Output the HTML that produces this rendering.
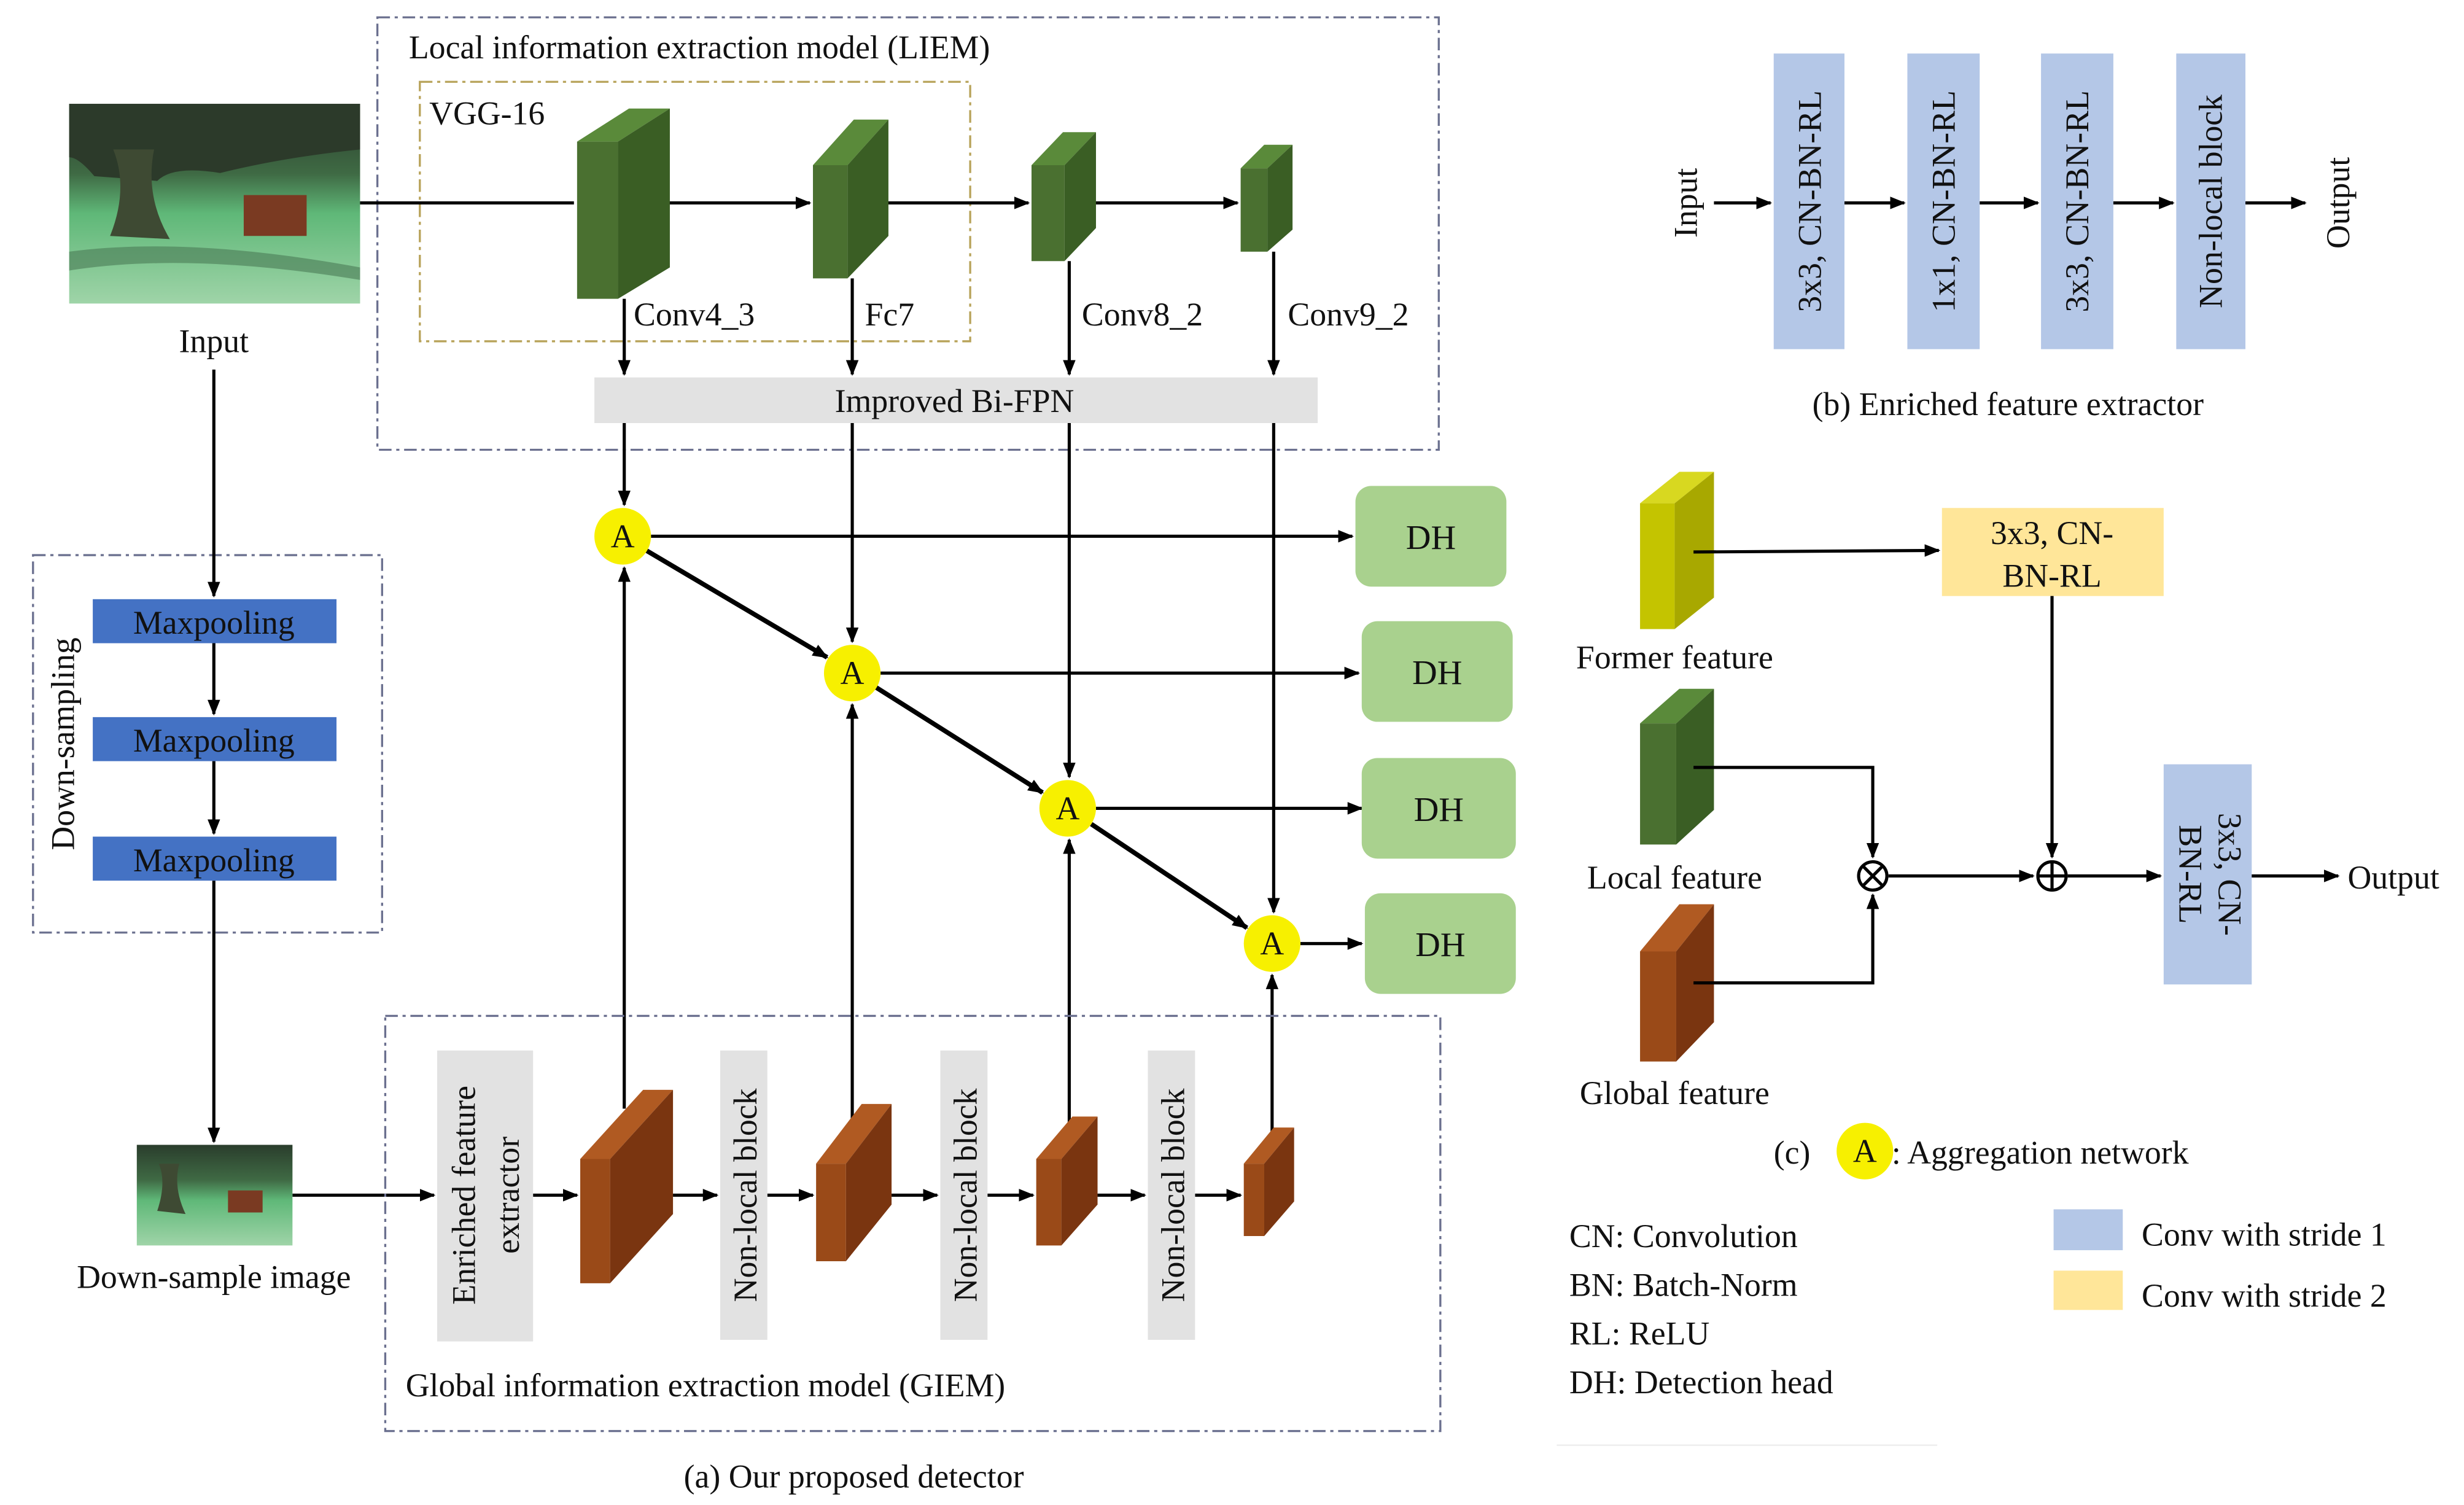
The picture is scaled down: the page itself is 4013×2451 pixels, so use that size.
<!DOCTYPE html>
<html><head><meta charset="utf-8"><style>
html,body{margin:0;padding:0;background:#fff}
svg{display:block}
svg text{font-family:"Liberation Serif","DejaVu Serif",serif;fill:#111}
</style></head><body>
<svg width="4013" height="2451" viewBox="0 0 1567 957" xmlns="http://www.w3.org/2000/svg" font-family="Liberation Serif, DejaVu Serif, serif">
<defs>
<marker id="ar" markerWidth="10" markerHeight="10" refX="9" refY="5" orient="auto" markerUnits="userSpaceOnUse"><path d="M0,1 L10,5 L0,9 Z" fill="#000"/></marker>
<linearGradient id="img" x1="0" y1="0" x2="0" y2="1">
<stop offset="0" stop-color="#2a3d2c"/><stop offset="0.35" stop-color="#3f6a44"/><stop offset="0.55" stop-color="#5fb878"/><stop offset="1" stop-color="#9fd4a8"/></linearGradient>
</defs>
<rect width="1567" height="957" fill="#fff"/>
<g font-size="21" font-family="Liberation Serif, DejaVu Serif, serif">
<!-- input image -->
<rect x="44" y="66" width="185" height="127" fill="url(#img)"/>
<path d="M44,66 L229,66 L229,95 Q180,100 140,110 Q110,105 100,115 L60,112 Q50,100 44,100 Z" fill="#2c3a2a"/>
<path d="M70,150 Q82,120 72,95 L98,95 Q92,125 108,152 Z" fill="#3e4a33"/>
<path d="M44,160 Q120,150 229,170 L229,178 Q120,160 44,172 Z" fill="#4a7a55" opacity="0.6"/>
<rect x="155" y="124" width="40" height="26" fill="#7a3a22"/>
<text x="136" y="224" text-anchor="middle">Input</text>
<!-- LIEM -->
<rect x="240" y="11" width="675" height="275" fill="none" stroke="#6b708f" stroke-width="1.3" stroke-dasharray="8,3,2,3"/>
<text x="260" y="37">Local information extraction model (LIEM)</text>
<rect x="267" y="52" width="350" height="165" fill="none" stroke="#b8a35a" stroke-width="1.3" stroke-dasharray="8,3,2,3"/>
<text x="273" y="79">VGG-16</text>
<g stroke="#000" stroke-width="2" fill="none">
<line x1="229" y1="129" x2="365" y2="129"/>
<line x1="405" y1="129" x2="515" y2="129" marker-end="url(#ar)"/>
<line x1="548" y1="129" x2="654" y2="129" marker-end="url(#ar)"/>
<line x1="685" y1="129" x2="787" y2="129" marker-end="url(#ar)"/>
<line x1="397" y1="190" x2="397" y2="238" marker-end="url(#ar)"/>
<line x1="542" y1="177" x2="542" y2="238" marker-end="url(#ar)"/>
<line x1="680" y1="166" x2="680" y2="238" marker-end="url(#ar)"/>
<line x1="810" y1="160" x2="810" y2="238" marker-end="url(#ar)"/>
<line x1="397" y1="269" x2="397" y2="321" marker-end="url(#ar)"/>
<line x1="542" y1="269" x2="542" y2="408" marker-end="url(#ar)"/>
<line x1="680" y1="269" x2="680" y2="494" marker-end="url(#ar)"/>
<line x1="810" y1="269" x2="810" y2="580" marker-end="url(#ar)"/>
<line x1="414" y1="341" x2="860" y2="341" marker-end="url(#ar)"/>
<line x1="560" y1="428" x2="864" y2="428" marker-end="url(#ar)"/>
<line x1="697" y1="514" x2="866" y2="514" marker-end="url(#ar)"/>
<line x1="827" y1="600" x2="866" y2="600" marker-end="url(#ar)"/>
<line x1="397" y1="705" x2="397" y2="361" marker-end="url(#ar)"/>
<line x1="542" y1="712" x2="542" y2="448" marker-end="url(#ar)"/>
<line x1="680" y1="718" x2="680" y2="534" marker-end="url(#ar)"/>
<line x1="809" y1="726" x2="809" y2="620" marker-end="url(#ar)"/>
</g>
<g stroke="#000" stroke-width="3" fill="none">
<line x1="411" y1="350" x2="526" y2="418" marker-end="url(#ar)"/>
<line x1="557" y1="437" x2="663" y2="504" marker-end="url(#ar)"/>
<line x1="694" y1="524" x2="793" y2="590" marker-end="url(#ar)"/>
</g>
<!-- green blocks -->
<g>
<polygon points="367,90 400,69 426,69 393,90" fill="#5a8a3a"/>
<polygon points="367,90 393,90 393,190 367,190" fill="#4a7030"/>
<polygon points="393,90 426,69 426,170 393,190" fill="#3a5e24"/>
<polygon points="517,105 543,76 565,76 539,105" fill="#5a8a3a"/>
<polygon points="517,105 539,105 539,177 517,177" fill="#4a7030"/>
<polygon points="539,105 565,76 565,150 539,177" fill="#3a5e24"/>
<polygon points="656,105 676,84 697,84 677,105" fill="#5a8a3a"/>
<polygon points="656,105 677,105 677,166 656,166" fill="#4a7030"/>
<polygon points="677,105 697,84 697,145 677,166" fill="#3a5e24"/>
<polygon points="789,107 804,92 822,92 806,107" fill="#5a8a3a"/>
<polygon points="789,107 806,107 806,160 789,160" fill="#4a7030"/>
<polygon points="806,107 822,92 822,146 806,160" fill="#3a5e24"/>
</g>
<text x="403" y="207">Conv4_3</text>
<text x="550" y="207">Fc7</text>
<text x="688" y="207">Conv8_2</text>
<text x="819" y="207">Conv9_2</text>
<rect x="378" y="240" width="460" height="29" fill="#e2e2e2"/>
<text x="607" y="262" text-anchor="middle">Improved Bi-FPN</text>
<!-- A nodes -->
<g fill="#f7f000">
<circle cx="396" cy="341" r="18"/><circle cx="542" cy="428" r="18"/><circle cx="679" cy="514" r="18"/><circle cx="809" cy="600" r="18"/>
</g>
<g text-anchor="middle"><text x="396" y="348">A</text><text x="542" y="435">A</text><text x="679" y="521">A</text><text x="809" y="607">A</text></g>
<!-- DH -->
<g fill="#a9d18e">
<rect x="862" y="309" width="96" height="64" rx="10"/><rect x="866" y="395" width="96" height="64" rx="10"/>
<rect x="866" y="482" width="98" height="64" rx="10"/><rect x="868" y="568" width="96" height="64" rx="10"/>
</g>
<g text-anchor="middle" font-size="22"><text x="910" y="349">DH</text><text x="914" y="435">DH</text><text x="915" y="522">DH</text><text x="916" y="608">DH</text></g>
<!-- down sampling -->
<rect x="21" y="353" width="222" height="240" fill="none" stroke="#6b708f" stroke-width="1.3" stroke-dasharray="8,3,2,3"/>
<text transform="translate(47,473) rotate(-90)" text-anchor="middle">Down-sampling</text>
<g fill="#4472c4"><rect x="59" y="381" width="155" height="28"/><rect x="59" y="456" width="155" height="28"/><rect x="59" y="532" width="155" height="28"/></g>
<g text-anchor="middle"><text x="136" y="403">Maxpooling</text><text x="136" y="478">Maxpooling</text><text x="136" y="554">Maxpooling</text></g>
<g stroke="#000" stroke-width="2" fill="none">
<line x1="136" y1="235" x2="136" y2="379" marker-end="url(#ar)"/>
<line x1="136" y1="409" x2="136" y2="454" marker-end="url(#ar)"/>
<line x1="136" y1="484" x2="136" y2="530" marker-end="url(#ar)"/>
<line x1="136" y1="560" x2="136" y2="726" marker-end="url(#ar)"/>
<line x1="186" y1="760" x2="276" y2="760" marker-end="url(#ar)"/>
<line x1="339" y1="760" x2="367" y2="760" marker-end="url(#ar)"/>
<line x1="428" y1="760" x2="456" y2="760" marker-end="url(#ar)"/>
<line x1="488" y1="760" x2="517" y2="760" marker-end="url(#ar)"/>
<line x1="567" y1="760" x2="596" y2="760" marker-end="url(#ar)"/>
<line x1="628" y1="760" x2="657" y2="760" marker-end="url(#ar)"/>
<line x1="698" y1="760" x2="728" y2="760" marker-end="url(#ar)"/>
<line x1="760" y1="760" x2="789" y2="760" marker-end="url(#ar)"/>
</g>
<rect x="87" y="728" width="99" height="64" fill="url(#img)"/>
<path d="M100,770 Q106,752 101,740 L114,740 Q110,755 118,772 Z" fill="#3e4a33"/>
<rect x="145" y="757" width="22" height="14" fill="#7a3a22"/>
<text x="136" y="819" text-anchor="middle">Down-sample image</text>
<!-- GIEM -->
<rect x="245" y="646" width="671" height="264" fill="none" stroke="#6b708f" stroke-width="1.3" stroke-dasharray="8,3,2,3"/>
<text x="258" y="888">Global information extraction model (GIEM)</text>
<g fill="#e2e2e2"><rect x="278" y="668" width="61" height="185"/><rect x="458" y="668" width="30" height="184"/><rect x="598" y="668" width="30" height="184"/><rect x="730" y="668" width="30" height="184"/></g>
<text transform="translate(302,760) rotate(-90)" text-anchor="middle">Enriched feature</text>
<text transform="translate(330,760) rotate(-90)" text-anchor="middle">extractor</text>
<text transform="translate(481,760) rotate(-90)" text-anchor="middle">Non-local block</text>
<text transform="translate(621,760) rotate(-90)" text-anchor="middle">Non-local block</text>
<text transform="translate(753,760) rotate(-90)" text-anchor="middle">Non-local block</text>
<g>
<polygon points="369,737 409,693 428,693 388,737" fill="#b05a22"/>
<polygon points="369,737 388,737 388,816 369,816" fill="#9a4a18"/>
<polygon points="388,737 428,693 428,772 388,816" fill="#7a3510"/>
<polygon points="519,740 548,702 567,702 538,740" fill="#b05a22"/>
<polygon points="519,740 538,740 538,802 519,802" fill="#9a4a18"/>
<polygon points="538,740 567,702 567,766 538,802" fill="#7a3510"/>
<polygon points="659,737 682,710 698,710 675,737" fill="#b05a22"/>
<polygon points="659,737 675,737 675,792 659,792" fill="#9a4a18"/>
<polygon points="675,737 698,710 698,766 675,792" fill="#7a3510"/>
<polygon points="791,740 810,717 823,717 804,740" fill="#b05a22"/>
<polygon points="791,740 804,740 804,786 791,786" fill="#9a4a18"/>
<polygon points="804,740 823,717 823,764 804,786" fill="#7a3510"/>
</g>
<text x="543" y="946" text-anchor="middle">(a) Our proposed detector</text>
<!-- (b) -->
<g fill="#b4c7e7"><rect x="1128" y="34" width="45" height="188"/><rect x="1213" y="34" width="46" height="188"/><rect x="1298" y="34" width="46" height="188"/><rect x="1384" y="34" width="44" height="188"/></g>
<text transform="translate(1158,128) rotate(-90)" text-anchor="middle">3x3, CN-BN-RL</text>
<text transform="translate(1243,128) rotate(-90)" text-anchor="middle">1x1, CN-BN-RL</text>
<text transform="translate(1328,128) rotate(-90)" text-anchor="middle">3x3, CN-BN-RL</text>
<text transform="translate(1413,128) rotate(-90)" text-anchor="middle">Non-local block</text>
<text transform="translate(1079,129) rotate(-90)" text-anchor="middle">Input</text>
<text transform="translate(1494,129) rotate(-90)" text-anchor="middle">Output</text>
<g stroke="#000" stroke-width="2" fill="none">
<line x1="1090" y1="129" x2="1126" y2="129" marker-end="url(#ar)"/>
<line x1="1173" y1="129" x2="1211" y2="129" marker-end="url(#ar)"/>
<line x1="1259" y1="129" x2="1296" y2="129" marker-end="url(#ar)"/>
<line x1="1344" y1="129" x2="1382" y2="129" marker-end="url(#ar)"/>
<line x1="1428" y1="129" x2="1466" y2="129" marker-end="url(#ar)"/>
</g>
<text x="1277" y="264" text-anchor="middle">(b) Enriched feature extractor</text>
<!-- (c) -->
<polygon points="1043,320 1068,300 1090,300 1065,320" fill="#d8d820"/>
<polygon points="1043,320 1065,320 1065,400 1043,400" fill="#c4c400"/>
<polygon points="1065,320 1090,300 1090,380 1065,400" fill="#a8a800"/>
<polygon points="1043,460 1068,438 1090,438 1066,460" fill="#5a8a3a"/>
<polygon points="1043,460 1066,460 1066,537 1043,537" fill="#4a7030"/>
<polygon points="1066,460 1090,438 1090,515 1066,537" fill="#3a5e24"/>
<polygon points="1043,605 1068,575 1090,575 1066,605" fill="#b05a22"/>
<polygon points="1043,605 1066,605 1066,675 1043,675" fill="#9a4a18"/>
<polygon points="1066,605 1090,575 1090,650 1066,675" fill="#7a3510"/>
<text x="1065" y="425" text-anchor="middle">Former feature</text>
<text x="1065" y="565" text-anchor="middle">Local feature</text>
<text x="1065" y="702" text-anchor="middle">Global feature</text>
<rect x="1235" y="323" width="141" height="56" fill="#ffe699"/>
<text x="1305" y="346" text-anchor="middle">3x3, CN-</text>
<text x="1305" y="373" text-anchor="middle">BN-RL</text>
<rect x="1376" y="486" width="56" height="140" fill="#b4c7e7"/>
<text transform="translate(1411,556) rotate(90)" text-anchor="middle">3x3, CN-</text>
<text transform="translate(1386,556) rotate(90)" text-anchor="middle">BN-RL</text>
<g stroke="#000" stroke-width="2" fill="none">
<line x1="1077" y1="351" x2="1233" y2="350" marker-end="url(#ar)"/>
<line x1="1305" y1="379" x2="1305" y2="545" marker-end="url(#ar)"/>
<polyline points="1077,488 1191,488 1191,545" marker-end="url(#ar)"/>
<polyline points="1077,625 1191,625 1191,569" marker-end="url(#ar)"/>
<line x1="1201" y1="557" x2="1293" y2="557" marker-end="url(#ar)"/>
<line x1="1315" y1="557" x2="1374" y2="557" marker-end="url(#ar)"/>
<line x1="1432" y1="557" x2="1487" y2="557" marker-end="url(#ar)"/>
<circle cx="1191" cy="557" r="9" fill="#fff"/>
<line x1="1185" y1="551" x2="1197" y2="563"/><line x1="1197" y1="551" x2="1185" y2="563"/>
<circle cx="1305" cy="557" r="9" fill="#fff"/>
<line x1="1296" y1="557" x2="1314" y2="557"/><line x1="1305" y1="548" x2="1305" y2="566"/>
</g>
<text x="1493" y="565">Output</text>
<text x="1128" y="740">(c)</text>
<circle cx="1186" cy="732" r="18" fill="#f7f000"/>
<text x="1186" y="739" text-anchor="middle">A</text>
<text x="1203" y="740">: Aggregation network</text>
<text x="998" y="793">CN: Convolution</text>
<text x="998" y="824">BN: Batch-Norm</text>
<text x="998" y="855">RL: ReLU</text>
<text x="998" y="886">DH: Detection head</text>
<line x1="990" y1="919" x2="1232" y2="919" stroke="#eee" stroke-width="1"/>
<rect x="1306" y="769" width="44" height="26" fill="#b4c7e7"/>
<rect x="1306" y="808" width="44" height="25" fill="#ffe699"/>
<text x="1362" y="792">Conv with stride 1</text>
<text x="1362" y="831">Conv with stride 2</text>
</g>
</svg>
</body></html>
